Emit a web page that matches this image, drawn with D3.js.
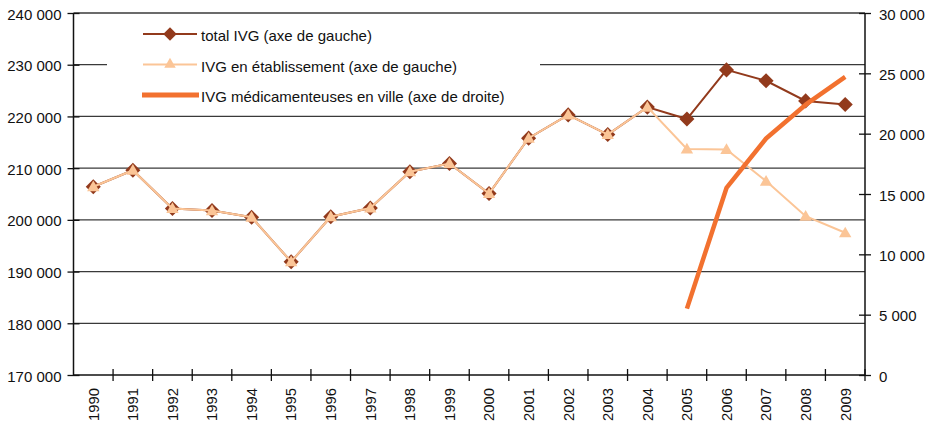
<!DOCTYPE html>
<html>
<head>
<meta charset="utf-8">
<script src="https://cdn.jsdelivr.net/npm/d3@7"></script>
<style>
  html, body { margin: 0; padding: 0; background: #fff; }
  svg { display: block; font-family: "Liberation Sans", Arial, sans-serif; }
</style>
</head>
<body>
<svg id="chart" width="931" height="425"></svg>
<script>
// Years on the horizontal axis
const years = [1990, 1991, 1992, 1993, 1994, 1995, 1996, 1997, 1998, 1999,
               2000, 2001, 2002, 2003, 2004, 2005, 2006, 2007, 2008, 2009];

// Total abortions (left axis)
const totalIVG = [206400, 209600, 202200, 201800, 200500, 191900, 200600, 202300, 209300, 210900,
                  205100, 215800, 220300, 216500, 221800, 219500, 229000, 226900, 223000, 222300];

// Abortions in hospitals and clinics (left axis)
const etabIVG = [206400, 209600, 202200, 201800, 200500, 191900, 200600, 202300, 209300, 210900,
                 205100, 215800, 220300, 216500, 221800, 213700, 213600, 207500, 200700, 197500];

// Medical abortions performed outside hospital (right axis), from 2005
const villeYears = [2005, 2006, 2007, 2008, 2009];
const villeIVG = [5500, 15500, 19600, 22400, 24700];

// Tick values
const leftTicks = [170000, 180000, 190000, 200000, 210000, 220000, 230000, 240000];
const rightTicks = [0, 5000, 10000, 15000, 20000, 25000, 30000];

const legendLabels = [
  "total IVG (axe de gauche)",
  "IVG en établissement (axe de gauche)",
  "IVG médicamenteuses en ville (axe de droite)"
];

const colTotal = "#923a1c";
const colEtab = "#fbc597";
const colVille = "#f2712f";
const gridCol = "#3a3a3a";

const svg = d3.select("#chart");
const pL = 73.5, pR = 865, pT = 13, pB = 375;

const x = d3.scaleBand().domain(years).range([pL, pR]).padding(0);
const cx = d => x(d) + x.bandwidth() / 2;
const yL = d3.scaleLinear().domain([170000, 240000]).range([pB, pT]);
const yR = d3.scaleLinear().domain([0, 30000]).range([pB, pT]);
const fmt = v => d3.format(",")(v).replace(/,/g, " ");

// Horizontal gridlines
svg.append("g").selectAll("line").data(leftTicks.filter(t => t > 170000)).join("line")
  .attr("x1", pL).attr("x2", pR)
  .attr("y1", d => yL(d)).attr("y2", d => yL(d))
  .attr("stroke", gridCol).attr("stroke-width", 1.3);

// Left axis
const gL = svg.append("g").attr("transform", `translate(${pL},0)`)
  .call(d3.axisLeft(yL).tickValues(leftTicks).tickFormat(fmt).tickSize(6).tickPadding(6));
gL.select(".domain").remove();
gL.append("line").attr("y1", pT).attr("y2", pB).attr("stroke", "#111").attr("stroke-width", 1.5);
gL.selectAll(".tick line").attr("x1", 6).attr("x2", -6).attr("stroke", "#111").attr("stroke-width", 1.3);
gL.selectAll(".tick text").attr("font-size", 15).attr("fill", "#111").attr("dy", "0.4em");

// Right axis
const gR = svg.append("g").attr("transform", `translate(${pR},0)`)
  .call(d3.axisRight(yR).tickValues(rightTicks).tickFormat(fmt).tickSize(6).tickPadding(8));
gR.select(".domain").remove();
gR.append("line").attr("y1", pT).attr("y2", pB).attr("stroke", "#111").attr("stroke-width", 1.5);
gR.selectAll(".tick line").attr("x1", -6).attr("x2", 6).attr("stroke", "#111").attr("stroke-width", 1.3);
gR.selectAll(".tick text").attr("font-size", 15).attr("fill", "#111").attr("dy", "0.4em");

// Bottom axis: baseline, boundary ticks, rotated year labels
const gB = svg.append("g").attr("transform", `translate(0,${pB})`);
gB.append("line").attr("x1", pL).attr("x2", pR).attr("stroke", "#111").attr("stroke-width", 1.5);
const bounds = years.map(d => x(d)).concat([pR]);
gB.selectAll("line.bt").data(bounds.slice(1)).join("line").attr("class", "bt")
  .attr("x1", d => d).attr("x2", d => d).attr("y1", -6).attr("y2", 6)
  .attr("stroke", "#111").attr("stroke-width", 1.3);
const gLab = svg.append("g").attr("transform", `translate(0,${pB})`)
  .call(d3.axisBottom(x).tickSize(0).tickPadding(0));
gLab.select(".domain").remove();
gLab.selectAll(".tick text")
  .attr("font-size", 14.8).attr("fill", "#111")
  .attr("transform", "rotate(-90)")
  .attr("text-anchor", "end").attr("x", -13).attr("y", 0).attr("dy", "0.36em");

// Series lines and markers
const diamond = d3.symbol(d3.symbolDiamond2, 145);
const triangle = d3.symbol(d3.symbolTriangle2, 110);
const lineL = d3.line().x((d, i) => cx(years[i])).y(d => yL(d));

svg.append("path").datum(totalIVG).attr("d", lineL)
  .attr("fill", "none").attr("stroke", colTotal).attr("stroke-width", 2);
svg.append("g").selectAll("path").data(totalIVG).join("path")
  .attr("d", diamond)
  .attr("transform", (d, i) => `translate(${cx(years[i])},${yL(d)})`)
  .attr("fill", colTotal);

svg.append("path").datum(etabIVG).attr("d", lineL)
  .attr("fill", "none").attr("stroke", colEtab).attr("stroke-width", 2);
svg.append("g").selectAll("path").data(etabIVG).join("path")
  .attr("d", triangle)
  .attr("transform", (d, i) => `translate(${cx(years[i])},${yL(d) + 1})`)
  .attr("fill", colEtab);

const lineR = d3.line().x((d, i) => cx(villeYears[i])).y(d => yR(d));
svg.append("path").datum(villeIVG).attr("d", lineR)
  .attr("fill", "none").attr("stroke", colVille).attr("stroke-width", 4.5)
  .attr("stroke-linejoin", "round");

// Legend
const lg = svg.append("g");
lg.append("rect").attr("x", 107).attr("y", 20).attr("width", 433).attr("height", 90).attr("fill", "#fff");
const rowsY = [34, 64.5, 95];
lg.append("line").attr("x1", 143).attr("x2", 197).attr("y1", rowsY[0]).attr("y2", rowsY[0])
  .attr("stroke", colTotal).attr("stroke-width", 2);
lg.append("path").attr("d", d3.symbol(d3.symbolDiamond2, 115))
  .attr("transform", `translate(170,${rowsY[0]})`).attr("fill", colTotal);
lg.append("line").attr("x1", 143).attr("x2", 197).attr("y1", rowsY[1]).attr("y2", rowsY[1])
  .attr("stroke", colEtab).attr("stroke-width", 2);
lg.append("path").attr("d", d3.symbol(d3.symbolTriangle2, 95))
  .attr("transform", `translate(170,${rowsY[1]})`).attr("fill", colEtab);
lg.append("line").attr("x1", 142).attr("x2", 199).attr("y1", rowsY[2]).attr("y2", rowsY[2])
  .attr("stroke", colVille).attr("stroke-width", 5);
lg.selectAll("text").data(legendLabels).join("text")
  .attr("x", 201).attr("y", (d, i) => rowsY[i] + 2).attr("dy", "0.35em")
  .attr("font-size", 15).attr("fill", "#111").text(d => d);
</script>
</body>
</html>
